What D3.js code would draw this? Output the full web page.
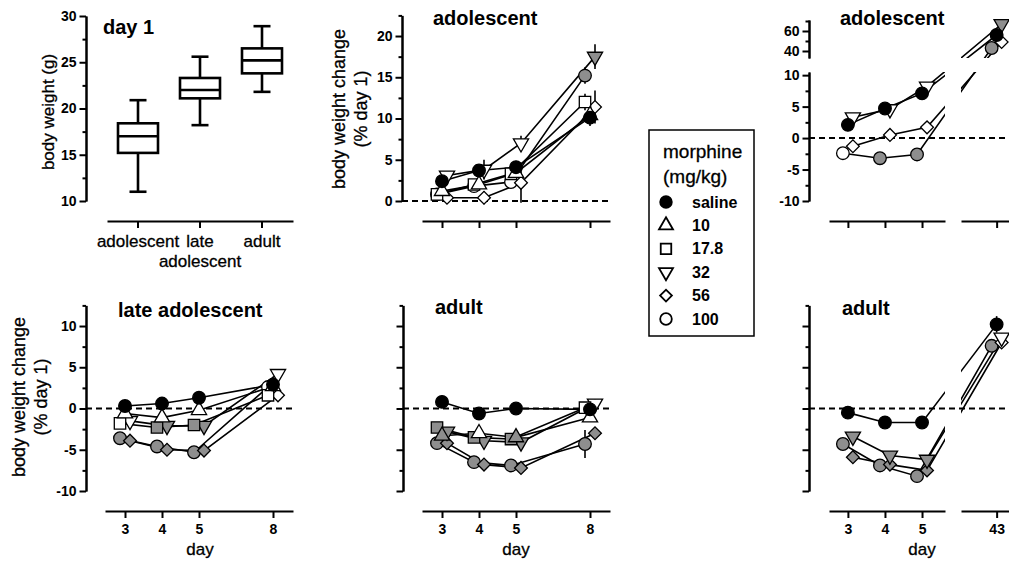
<!DOCTYPE html>
<html><head><meta charset="utf-8">
<script src="https://cdn.jsdelivr.net/npm/d3@7"></script>
<style>body{margin:0;background:#fff} svg{font-family:"Liberation Sans",Arial,sans-serif}</style>
</head><body><svg id="c" width="1009" height="564"></svg>
<script>
// ---------------- DATA ----------------
const ageGroups = ["adolescent", "late adolescent", "adult"];
const boxMin = [11.0, 18.2, 21.8];
const boxQ1  = [15.2, 21.1, 23.8];
const boxMed = [17.0, 22.0, 25.2];
const boxQ3  = [18.4, 23.3, 26.5];
const boxMax = [20.9, 25.6, 28.9];

const doses = ["saline", "10", "17.8", "32", "56", "100"];
const longDoseIdx = [0, 3, 4, 5];          // saline, 32, 56, 100
const shortDays = [3, 4, 5, 8];
const longDays = [3, 4, 5, 43];

// adolescent, days 3-8 (rows follow doses)
const adoShortMean = [[2.4,3.7,4.1,10.1],[1.2,2.0,3.4,10.4],[0.8,2.0,3.3,12.0],[3.1,3.8,7.0,17.5],[0.4,0.4,2.2,11.4],[0.8,1.8,2.3,15.2]];
const adoShortSem  = [[0.4,0.5,0.5,1.0],[0.3,0.4,0.4,0.8],[0.3,0.4,0.5,1.0],[0.4,1.2,0.9,1.5],[0.6,0.8,2.4,2.0],[0.3,0.3,0.4,1.0]];
const adoShortSig  = [[0,0,0,0],[0,0,0,0],[0,0,0,0],[0,0,0,1],[0,0,0,0],[0,0,0,1]];
// late adolescent, days 3-8
const lateShortMean = [[0.3,0.6,1.3,2.9],[-0.6,-1.1,-0.2,2.7],[-1.8,-2.3,-2.0,1.6],[-1.5,-2.1,-2.1,4.2],[-3.9,-5.0,-5.1,1.6],[-3.6,-4.6,-5.3,2.6]];
const lateShortSem  = [[0.3,0.3,0.3,0.6],[0.4,0.4,0.4,0.6],[0.4,0.4,0.4,0.6],[0.4,0.4,0.4,0.6],[0.3,0.3,0.3,0.5],[0.3,0.3,0.3,0.6]];
const lateShortSig  = [[0,0,0,0],[0,0,0,0],[0,1,1,0],[0,1,1,0],[1,1,1,0],[1,1,1,0]];
// adult, days 3-8
const adultShortMean = [[0.8,-0.6,0.0,-0.1],[-3.3,-3.0,-3.5,-1.1],[-2.3,-3.5,-3.7,0.1],[-2.8,-3.9,-4.1,0.6],[-4.2,-6.8,-7.2,-3.0],[-4.2,-6.5,-6.9,-4.3]];
const adultShortSem  = [[0.4,0.3,0.3,0.4],[0.4,0.4,0.4,0.5],[0.4,0.4,0.4,0.5],[0.4,0.4,0.4,0.5],[0.3,0.3,0.3,0.5],[0.3,0.3,0.3,1.7]];
const adultShortSig  = [[0,0,0,0],[1,0,1,0],[1,1,1,0],[1,1,1,0],[1,1,1,1],[1,1,1,1]];
// adolescent, days 3-43 (rows: saline, 32, 56, 100)
const adoLongMean = [[2.1,4.7,7.1,56],[3.3,4.6,8.2,67],[-1.3,0.5,1.7,49],[-2.4,-3.2,-2.6,43]];
const adoLongSem  = [[0.4,0.5,0.6,3],[0.4,0.5,0.6,3],[0.4,0.4,0.4,3],[0.4,0.4,0.5,3]];
const adoLongSig  = [[0,0,0,0],[0,0,0,1],[0,0,0,0],[0,1,1,1]];
// adult, days 3-43
const adultLongMean = [[-0.5,-1.7,-1.7,10.2],[-3.4,-5.7,-6.2,8.6],[-5.9,-6.8,-7.5,8.0],[-4.3,-6.9,-8.2,7.6]];
const adultLongSem  = [[0.3,0.3,0.3,1.0],[0.4,0.4,0.4,0.5],[0.3,0.3,0.3,0.5],[0.3,0.3,0.3,0.5]];
const adultLongSig  = [[0,0,0,0],[1,1,1,0],[1,1,1,0],[1,1,1,1]];

// ---------------- STYLE ----------------
const FONT = "'Liberation Sans', Arial, sans-serif";
const GRAY = "#8e8e8e";
const xOffset = [0, 0, -5, 5, 5, -5];   // px jitter per dose
const symType = [d3.symbolCircle, d3.symbolTriangle, d3.symbolSquare, d3.symbolTriangle, d3.symbolSquare, d3.symbolCircle];
const symSize = [125, 100, 130, 100, 82, 125];
const symRot  = [0, 0, 0, 180, 45, 0];

const svg = d3.select("#c");
const defs = svg.append("defs");

function styleAxis(g) {
  g.select(".domain").attr("stroke", "#000").attr("stroke-width", 2);
  g.selectAll(".tick line").attr("stroke", "#000").attr("stroke-width", 2);
  g.selectAll(".tick text").attr("font-size", 14).attr("font-weight", "bold")
    .attr("fill", "#000").attr("font-family", FONT);
}
function yAxis(x, scale, major, minor, labels) {
  const gm = svg.append("g").attr("transform", `translate(${x},0)`)
    .call(d3.axisLeft(scale).tickValues(minor).tickSize(3.5).tickFormat("").tickSizeOuter(0));
  styleAxis(gm);
  const g = svg.append("g").attr("transform", `translate(${x},0)`)
    .call(d3.axisLeft(scale).tickValues(major).tickSize(6.5).tickPadding(3).tickSizeOuter(0)
      .tickFormat(labels ? (d => String(d)) : ""));
  styleAxis(g);
}
function xAxis(y, scale, ticks) {
  const g = svg.append("g").attr("transform", `translate(0,${y})`)
    .call(d3.axisBottom(scale).tickValues(ticks).tickSize(7).tickPadding(6).tickSizeOuter(0)
      .tickFormat(d => String(d)));
  styleAxis(g);
  return g;
}
function text(x, y, s, size, weight, anchor, rot) {
  const t = svg.append("text").attr("font-family", FONT).attr("font-size", size)
    .attr("font-weight", weight || "normal").attr("text-anchor", anchor || "start").attr("fill", "#000").text(s);
  if (!weight || weight === "normal") t.attr("stroke", "#000").attr("stroke-width", 0.3);
  if (rot) t.attr("transform", `translate(${x},${y}) rotate(${rot})`).attr("dominant-baseline", "central");
  else t.attr("x", x).attr("y", y);
  return t;
}
function zeroLine(x1, x2, y) {
  svg.append("line").attr("x1", x1).attr("x2", x2).attr("y1", y).attr("y2", y)
    .attr("stroke", "#000").attr("stroke-width", 2).attr("stroke-dasharray", "6,4");
}
function symbolPath(k, size) {
  return d3.symbol().type(symType[k]).size(size || symSize[k])();
}
function fillOf(k, sig) { return k === 0 ? "#000" : (sig ? GRAY : "#fff"); }

let clipN = 0;
function makeClip(x, y, w, h) {
  const id = "clip" + (clipN++);
  defs.append("clipPath").attr("id", id).append("rect").attr("x", x).attr("y", y).attr("width", w).attr("height", h);
  return id;
}

function drawSeries(x, y, days, doseIdx, means, sems, sigs, clips) {
  const order = d3.range(doseIdx.length).reverse();
  const line = d3.line();
  const pts = doseIdx.map((k, i) => days.map((d, j) => [x(d) + xOffset[k], y(means[i][j])]));
  (clips || [null]).forEach(cid => {
    const g = svg.append("g");
    if (cid) g.attr("clip-path", `url(#${cid})`);
    order.forEach(i => {
      g.append("path").attr("d", line(pts[i])).attr("fill", "none")
        .attr("stroke", "#000").attr("stroke-width", 1.6);
    });
  });
  order.forEach(i => {
    days.forEach((d, j) => {
      const m = means[i][j], s = sems[i][j];
      svg.append("line").attr("x1", pts[i][j][0]).attr("x2", pts[i][j][0])
        .attr("y1", y(m - s)).attr("y2", y(m + s)).attr("stroke", "#000").attr("stroke-width", 1.6);
    });
  });
  order.forEach(i => {
    const k = doseIdx[i];
    days.forEach((d, j) => {
      svg.append("path").attr("d", symbolPath(k))
        .attr("transform", `translate(${pts[i][j][0]},${pts[i][j][1]}) rotate(${symRot[k]})`)
        .attr("fill", fillOf(k, sigs[i][j])).attr("stroke", "#000").attr("stroke-width", 1.3);
    });
  });
}

// ---------------- PANEL 1: box plot ----------------
{
  const x = d3.scaleBand().domain(ageGroups).range([107, 293]);
  const y = d3.scaleLinear().domain([10, 30]).range([201, 16]);
  yAxis(86, y, [10, 15, 20, 25, 30], [12.5, 17.5, 22.5, 27.5], true);
  const gx = svg.append("g").attr("transform", "translate(0,221)")
    .call(d3.axisBottom(x).tickSize(7).tickSizeOuter(0).tickFormat(""));
  styleAxis(gx);
  ageGroups.forEach((a, i) => {
    const cx = x(a) + x.bandwidth() / 2;
    const words = a.split(" ");
    if (words.length === 1) text(cx, 247, a, 17, "normal", "middle");
    else { text(cx, 247, words[0], 17, "normal", "middle"); text(cx, 267, words[1], 17, "normal", "middle"); }
    const bw = 40, cw = 17;
    const g = svg.append("g").attr("stroke", "#000").attr("stroke-width", 2.6).attr("fill", "none");
    g.append("line").attr("x1", cx).attr("x2", cx).attr("y1", y(boxMax[i])).attr("y2", y(boxQ3[i]));
    g.append("line").attr("x1", cx).attr("x2", cx).attr("y1", y(boxQ1[i])).attr("y2", y(boxMin[i]));
    g.append("line").attr("x1", cx - cw / 2).attr("x2", cx + cw / 2).attr("y1", y(boxMax[i])).attr("y2", y(boxMax[i]));
    g.append("line").attr("x1", cx - cw / 2).attr("x2", cx + cw / 2).attr("y1", y(boxMin[i])).attr("y2", y(boxMin[i]));
    g.append("rect").attr("x", cx - bw / 2).attr("width", bw).attr("y", y(boxQ3[i])).attr("height", y(boxQ1[i]) - y(boxQ3[i]));
    g.append("line").attr("x1", cx - bw / 2).attr("x2", cx + bw / 2).attr("y1", y(boxMed[i])).attr("y2", y(boxMed[i]));
  });
  text(103, 34, "day 1", 20, "bold");
  text(48, 112, "body weight (g)", 17, "normal", "middle", -90);
}

// ---------------- PANEL 2: adolescent short ----------------
{
  const x = d3.scaleLinear().domain([2.46, 3, 5, 8, 8.54]).range([422, 442, 516, 590, 610]);
  const y = d3.scaleLinear().domain([0, 22.5]).range([201, 15.4]);
  yAxis(402, y, [0, 5, 10, 15, 20], [2.5, 7.5, 12.5, 17.5, 22.5], true);
  xAxis(221, x, shortDays).selectAll(".tick text").remove();
  zeroLine(402, 610, y(0));
  drawSeries(x, y, shortDays, d3.range(6), adoShortMean, adoShortSem, adoShortSig);
  text(433, 25, "adolescent", 20, "bold");
  text(339, 109, "body weight change", 18, "normal", "middle", -90);
  text(361, 109, "(% day 1)", 18, "normal", "middle", -90);
}

// ---------------- PANEL 3: adolescent long (broken axes) ----------------
{
  const xd = [2.49, 5.62, 42.03, 43.5], xr = [829, 945, 961, 1015];
  const x = d3.scaleLinear().domain(xd).range(xr);
  const y = d3.scaleLinear().domain([-10, 10.5, 33, 71]).range([201, 72, 58, 20]);
  const yLow = d3.scaleLinear().domain([-10, 10.5]).range([201, 72]);
  const yUp = d3.scaleLinear().domain([33, 71]).range([58, 20]);
  yAxis(809, yLow, [-10, -5, 0, 5, 10], [-7.5, -2.5, 2.5, 7.5], true);
  yAxis(809, yUp, [40, 60], [50, 70], true);
  const xL = d3.scaleLinear().domain([xd[0], xd[1]]).range([xr[0], xr[1]]);
  const xR = d3.scaleLinear().domain([xd[2], xd[3]]).range([xr[2], xr[3]]);
  xAxis(221, xL, [3, 4, 5]).selectAll(".tick text").remove();
  xAxis(221, xR, [43]).selectAll(".tick text").remove();
  zeroLine(809, 1009, y(0));
  const clips = [makeClip(780, 72, 165, 170), makeClip(961, 72, 60, 170),
                 makeClip(780, 0, 165, 58), makeClip(961, 0, 60, 58)];
  drawSeries(x, y, longDays, longDoseIdx, adoLongMean, adoLongSem, adoLongSig, clips);
  text(840, 25, "adolescent", 20, "bold");
}

// ---------------- PANEL 4: late adolescent ----------------
{
  const x = d3.scaleLinear().domain([2.46, 3, 5, 8, 8.54]).range([105, 125, 199, 273, 293]);
  const y = d3.scaleLinear().domain([-10, 12.5]).range([491, 305.4]);
  yAxis(86, y, [-10, -5, 0, 5, 10], [-7.5, -2.5, 2.5, 7.5, 12.5], true);
  xAxis(511, x, shortDays);
  zeroLine(86, 293, y(0));
  drawSeries(x, y, shortDays, d3.range(6), lateShortMean, lateShortSem, lateShortSig);
  text(118, 317, "late adolescent", 20, "bold");
  text(200, 555, "day", 17, "normal", "middle");
  text(19, 397, "body weight change", 18, "normal", "middle", -90);
  text(41, 397, "(% day 1)", 18, "normal", "middle", -90);
}

// ---------------- PANEL 5: adult short ----------------
{
  const x = d3.scaleLinear().domain([2.46, 3, 5, 8, 8.54]).range([422, 442, 516, 590, 610]);
  const y = d3.scaleLinear().domain([-10, 12.5]).range([491, 305.4]);
  yAxis(403, y, [-10, -5, 0, 5, 10], [-7.5, -2.5, 2.5, 7.5, 12.5], false);
  xAxis(511, x, shortDays);
  zeroLine(403, 610, y(0));
  drawSeries(x, y, shortDays, d3.range(6), adultShortMean, adultShortSem, adultShortSig);
  text(435, 314, "adult", 20, "bold");
  text(516, 555, "day", 17, "normal", "middle");
}

// ---------------- PANEL 6: adult long ----------------
{
  const xd = [2.49, 5.62, 42.03, 43.5], xr = [829, 945, 961, 1015];
  const x = d3.scaleLinear().domain(xd).range(xr);
  const y = d3.scaleLinear().domain([-10, 12.5]).range([491, 305.4]);
  yAxis(809, y, [-10, -5, 0, 5, 10], [-7.5, -2.5, 2.5, 7.5, 12.5], false);
  const xL = d3.scaleLinear().domain([xd[0], xd[1]]).range([xr[0], xr[1]]);
  const xR = d3.scaleLinear().domain([xd[2], xd[3]]).range([xr[2], xr[3]]);
  xAxis(511, xL, [3, 4, 5]);
  xAxis(511, xR, [43]);
  zeroLine(809, 1009, y(0));
  const clips = [makeClip(780, 290, 165, 230), makeClip(961, 290, 60, 230)];
  drawSeries(x, y, longDays, longDoseIdx, adultLongMean, adultLongSem, adultLongSig, clips);
  text(842, 315, "adult", 20, "bold");
  text(922, 555, "day", 17, "normal", "middle");
}

// ---------------- LEGEND ----------------
{
  svg.append("rect").attr("x", 649).attr("y", 130).attr("width", 105).attr("height", 206)
    .attr("fill", "#fff").attr("stroke", "#000").attr("stroke-width", 1.5);
  text(663, 158, "morphine", 19, "normal");
  text(663, 183, "(mg/kg)", 19, "normal");
  const ly = d3.scalePoint().domain(doses).range([202, 319]);
  doses.forEach((d, k) => {
    svg.append("path").attr("d", symbolPath(k, symSize[k] * 0.85))
      .attr("transform", `translate(666,${ly(d)}) rotate(${symRot[k]})`)
      .attr("fill", k === 0 ? "#000" : "#fff").attr("stroke", "#000").attr("stroke-width", 1.8);
    text(692, ly(d), d, 16, "bold").attr("dominant-baseline", "central");
  });
}
</script></body></html>
